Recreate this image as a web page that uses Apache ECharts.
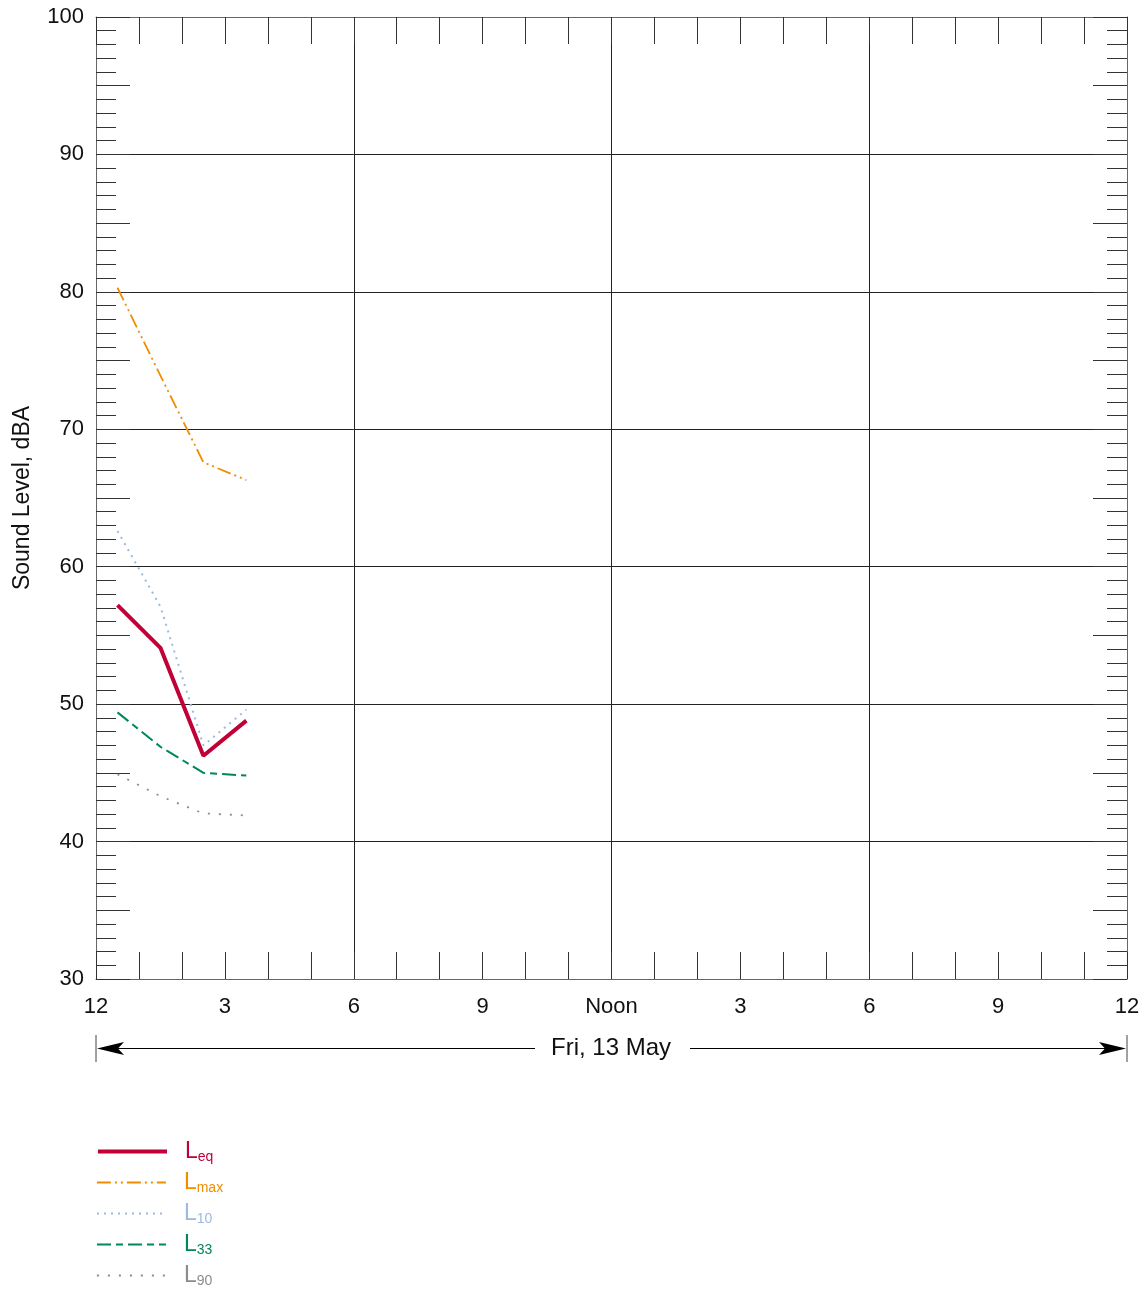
<!DOCTYPE html>
<html><head><meta charset="utf-8">
<script src="https://cdn.jsdelivr.net/npm/echarts@6/dist/echarts.min.js"></script>
<style>html,body{margin:0;padding:0;background:#fff}#c{width:1147px;height:1291px}</style>
</head><body><div id="c"></div>
<script>
const hours = [0.5, 1.5, 2.5, 3.5];
const leq  = [57.2, 54.1, 46.25, 48.8];
const lmax = [80.3, 73.9, 67.6, 66.3];
const l10  = [62.6, 57.1, 47.0, 49.6];
const l33  = [49.4, 46.9, 45.0, 44.8];
const l90  = [44.9, 43.3, 42.05, 41.9];
const xTickLabels = ['12','3','6','9','Noon','3','6','9','12'];
const seriesNames = ['Leq','Lmax','L10','L33','L90'];
const subs = ['eq','max','10','33','90'];
const colors = ['#C10037','#F28C00','#9DB9DE','#00875A','#8C8C8C'];

const FONT = 'Liberation Sans, Arial, sans-serif';
const chart = echarts.init(document.getElementById('c'), null, {renderer:'canvas'});
const pairs = arr => hours.map((h,i)=>[h, arr[i]]);
const lineStyles = [
  {width:4, type:'solid'},
  {width:1.8, type:[14,4,2,4,2,4]},
  {width:2, type:[2,5]},
  {width:2, type:[14,5,7,5]},
  {width:1.8, type:[2,9]}
];
const dataArrs = [leq, lmax, l10, l33, l90];
const FRAME = '#666', TICK = '#333', GRIDC = '#222';

const legends = seriesNames.map((n,i)=>({
  data:[n], left:96, top:1139 + i*31, padding:0, orient:'vertical',
  itemWidth:69, itemHeight:14, selectedMode:false,
  itemStyle:{color:'rgba(0,0,0,0)', borderWidth:0, opacity:0},
  lineStyle:{width:lineStyles[i].width, type:lineStyles[i].type, color:colors[i]},
  formatter: () => '{L|L}{s|' + subs[i] + '}',
  textStyle:{ rich:{
    L:{fontFamily:FONT, fontSize:23, color:colors[i], padding:[0,0,0,13], lineHeight:26},
    s:{fontFamily:FONT, fontSize:14, color:colors[i], padding:[11,0,0,0], lineHeight:26}
  }}
}));

const gridRect = {left:96, top:17, right:20, bottom:312, containLabel:false};
const line = (show) => ({show:show, onZero:false, lineStyle:{color:FRAME, width:1}});

const option = {
  animation:false,
  backgroundColor:'#fff',
  textStyle:{fontFamily:FONT},
  grid:[Object.assign({}, gridRect), Object.assign({}, gridRect)],
  legend: legends,
  xAxis:[
    {type:'value', gridIndex:0, min:0, max:24, interval:3, position:'bottom',
     axisLine:line(true), axisTick:{show:false},
     splitLine:{show:false},
     axisLabel:{show:true, margin:17, fontSize:22, color:'#111', fontFamily:FONT,
       formatter:(v)=> xTickLabels[Math.round(v/3)] }},
    {type:'value', gridIndex:0, min:0, max:24, interval:1, position:'top',
     axisLine:line(true), axisLabel:{show:false}, splitLine:{show:false},
     axisTick:{show:true, inside:true, length:27, lineStyle:{color:TICK}}},
    {type:'value', gridIndex:1, min:0, max:24, interval:6, position:'top',
     axisLine:line(false), axisTick:{show:false}, axisLabel:{show:false},
     splitLine:{show:true, lineStyle:{color:GRIDC, width:1}}},
    {type:'value', gridIndex:1, min:0, max:24, interval:1, position:'bottom',
     axisLine:line(false), axisLabel:{show:false}, splitLine:{show:false},
     axisTick:{show:true, inside:true, length:27, lineStyle:{color:TICK}}}
  ],
  yAxis:[
    {type:'value', gridIndex:0, min:30, max:100, interval:5, position:'left',
     name:'Sound Level, dBA', nameLocation:'middle', nameGap:62,
     nameTextStyle:{fontSize:23, color:'#111', fontFamily:FONT},
     axisLine:line(true),
     axisTick:{show:true, inside:true, length:34, lineStyle:{color:TICK}},
     minorTick:{show:true, splitNumber:5, length:20, lineStyle:{color:TICK}},
     axisLabel:{show:true, margin:12, fontSize:22, color:'#111', fontFamily:FONT,
       formatter:(v)=> (Math.round(v) % 10 === 0 ? String(v) : '')},
     splitLine:{show:false}},
    {type:'value', gridIndex:0, min:30, max:100, interval:5, position:'right',
     axisLine:line(true),
     axisTick:{show:true, inside:true, length:34, lineStyle:{color:TICK}},
     minorTick:{show:true, splitNumber:5, length:20, lineStyle:{color:TICK}},
     axisLabel:{show:false}, splitLine:{show:false}},
    {type:'value', gridIndex:1, min:30, max:100, interval:10, position:'left',
     axisLine:line(false), axisTick:{show:false}, axisLabel:{show:false},
     splitLine:{show:true, lineStyle:{color:GRIDC, width:1}}},
    {type:'value', gridIndex:1, min:30, max:100, interval:10, position:'right',
     axisLine:line(false), axisTick:{show:false}, axisLabel:{show:false}, splitLine:{show:false}}
  ],
  series: seriesNames.map((n,i)=>({
    name:n, type:'line', xAxisIndex:0, yAxisIndex:0,
    data: pairs(dataArrs[i]), symbol:'none', showSymbol:false,
    lineStyle:Object.assign({color:colors[i]}, lineStyles[i]),
    itemStyle:{color:colors[i]}, z: 10 - i
  })),
  graphic:[
    {type:'line', shape:{x1:96,y1:1035,x2:96,y2:1062}, style:{stroke:'#444', lineWidth:1}},
    {type:'line', shape:{x1:1127,y1:1035,x2:1127,y2:1062}, style:{stroke:'#444', lineWidth:1}},
    {type:'line', shape:{x1:100,y1:1048.5,x2:535,y2:1048.5}, style:{stroke:'#000', lineWidth:1}},
    {type:'line', shape:{x1:690,y1:1048.5,x2:1123,y2:1048.5}, style:{stroke:'#000', lineWidth:1}},
    {type:'polygon', shape:{points:[[97,1048.5],[124,1042],[118,1048.5],[124,1055]]}, style:{fill:'#000'}},
    {type:'polygon', shape:{points:[[1126,1048.5],[1099,1042],[1105,1048.5],[1099,1055]]}, style:{fill:'#000'}},
    {type:'text', x:611, y:1048, style:{text:'Fri, 13 May', fontSize:24, fontFamily:FONT, fill:'#111', align:'center', verticalAlign:'middle'}}
  ]
};
chart.setOption(option);
</script></body></html>
